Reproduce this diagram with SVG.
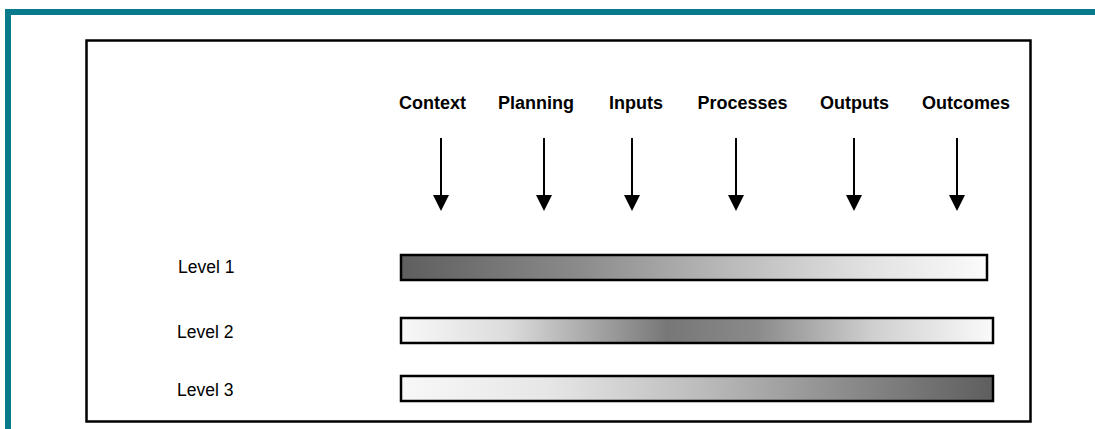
<svg xmlns="http://www.w3.org/2000/svg" width="1095" height="429" viewBox="0 0 1095 429">
<style>
.frame{fill:none;stroke:#097a8b;stroke-width:6}
.box{fill:#fff;stroke:#000;stroke-width:2.5}
.hdr{font-family:"Liberation Sans",Arial,sans-serif;font-weight:bold;font-size:18px;fill:#000;text-anchor:middle}
.lvl{font-family:"Liberation Sans",Arial,sans-serif;font-size:17.5px;fill:#000}
.bar{stroke:#000;stroke-width:2.5}
.shaft{stroke:#000;stroke-width:2;fill:none}
.head{fill:#000}
</style>
<defs>
<linearGradient id="g1" x1="0" y1="0" x2="1" y2="0">
<stop offset="0" stop-color="#5e5e5e"/>
<stop offset="0.3" stop-color="#8a8a8a"/>
<stop offset="0.55" stop-color="#b8b8b8"/>
<stop offset="0.8" stop-color="#e2e2e2"/>
<stop offset="1" stop-color="#fbfbfb"/>
</linearGradient>
<linearGradient id="g2" x1="0" y1="0" x2="1" y2="0">
<stop offset="0" stop-color="#f8f8f8"/>
<stop offset="0.18" stop-color="#dcdcdc"/>
<stop offset="0.45" stop-color="#777"/>
<stop offset="0.6" stop-color="#8a8a8a"/>
<stop offset="0.8" stop-color="#d0d0d0"/>
<stop offset="1" stop-color="#fafafa"/>
</linearGradient>
<linearGradient id="g3" x1="0" y1="0" x2="1" y2="0">
<stop offset="0" stop-color="#f8f8f8"/>
<stop offset="0.25" stop-color="#e6e6e6"/>
<stop offset="0.5" stop-color="#bdbdbd"/>
<stop offset="0.75" stop-color="#8c8c8c"/>
<stop offset="1" stop-color="#5e5e5e"/>
</linearGradient>
</defs>
<rect width="1095" height="429" fill="#fff"/>
<path class="frame" d="M8,429 L8,12 L1095,12"/>
<rect class="box" x="86.5" y="40.5" width="944" height="381"/>
<g id="headers">
<g id="n-context"><text class="hdr" x="432.5" y="109">Context</text></g>
<g id="n-planning"><text class="hdr" x="536" y="109">Planning</text></g>
<g id="n-inputs"><text class="hdr" x="636" y="109">Inputs</text></g>
<g id="n-processes"><text class="hdr" x="742.5" y="109">Processes</text></g>
<g id="n-outputs"><text class="hdr" x="854.5" y="109">Outputs</text></g>
<g id="n-outcomes"><text class="hdr" x="966" y="109">Outcomes</text></g>
</g>
<g id="connectors">
<path class="shaft" d="M441,138 V196"/>
<path class="shaft" d="M544,138 V196"/>
<path class="shaft" d="M632,138 V196"/>
<path class="shaft" d="M736,138 V196"/>
<path class="shaft" d="M854,138 V196"/>
<path class="shaft" d="M957,138 V196"/>
<path class="head" d="M433,195 H449 L441,211 Z"/>
<path class="head" d="M536,195 H552 L544,211 Z"/>
<path class="head" d="M624,195 H640 L632,211 Z"/>
<path class="head" d="M728,195 H744 L736,211 Z"/>
<path class="head" d="M846,195 H862 L854,211 Z"/>
<path class="head" d="M949,195 H965 L957,211 Z"/>
</g>
<g id="level1">
<text class="lvl" x="178" y="273">Level 1</text>
<rect class="bar" x="401" y="255" width="586" height="25" fill="url(#g1)"/>
</g>
<g id="level2">
<text class="lvl" x="177" y="338">Level 2</text>
<rect class="bar" x="401" y="318" width="592" height="25" fill="url(#g2)"/>
</g>
<g id="level3">
<text class="lvl" x="177" y="396">Level 3</text>
<rect class="bar" x="401" y="376" width="592" height="25" fill="url(#g3)"/>
</g>
</svg>
